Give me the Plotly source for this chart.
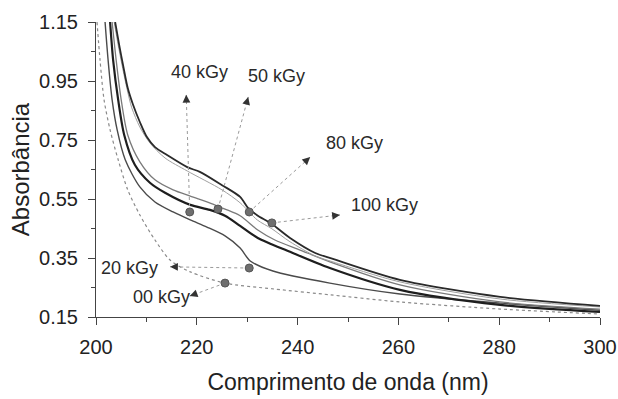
import math
import plotly.graph_objects as go

# ---- data ----
x_00 = [200.2, 200.8, 201.6, 202.8, 204.4, 206.3, 208.7, 211.7, 214.7, 218.7, 225.6, 235.3, 246.6, 260.3, 280.2, 300.0]
y_00 = [1.150, 1.021, 0.886, 0.784, 0.683, 0.581, 0.496, 0.411, 0.343, 0.303, 0.265, 0.245, 0.225, 0.201, 0.177, 0.160]

x_20 = [201.8, 202.4, 203.2, 204.2, 205.8, 208.7, 211.7, 215.3, 218.7, 222.0, 225.6, 228.6, 230.6, 235.1, 246.4, 260.3, 280.2, 300.0]
y_20 = [1.150, 1.021, 0.886, 0.784, 0.683, 0.591, 0.540, 0.506, 0.479, 0.455, 0.425, 0.384, 0.340, 0.306, 0.265, 0.228, 0.197, 0.173]

x_40 = [202.8, 203.4, 204.4, 205.6, 207.7, 210.7, 213.7, 218.7, 222.6, 225.6, 228.6, 232.1, 238.5, 246.4, 260.3, 280.2, 300.0]
y_40 = [1.150, 1.021, 0.886, 0.767, 0.666, 0.605, 0.571, 0.530, 0.513, 0.493, 0.459, 0.418, 0.371, 0.316, 0.242, 0.191, 0.167]

x_50 = [203.2, 204.0, 205.0, 206.3, 208.7, 211.7, 215.3, 218.7, 223.2, 225.6, 228.6, 232.1, 235.5, 240.5, 246.4, 260.3, 280.2, 300.0]
y_50 = [1.150, 1.021, 0.886, 0.767, 0.676, 0.615, 0.581, 0.560, 0.533, 0.516, 0.493, 0.445, 0.411, 0.377, 0.337, 0.259, 0.201, 0.177]

x_80 = [203.6, 204.4, 205.2, 206.2, 207.1, 208.7, 210.7, 213.7, 218.1, 225.0, 228.6, 232.0, 234.9, 238.5, 243.5, 247.0, 260.3, 280.2, 300.0]
y_80 = [1.150, 1.072, 1.001, 0.920, 0.859, 0.794, 0.740, 0.689, 0.645, 0.581, 0.537, 0.479, 0.449, 0.405, 0.357, 0.337, 0.269, 0.211, 0.184]

x_100 = [203.8, 204.6, 205.4, 206.3, 207.3, 208.7, 210.1, 211.7, 214.1, 218.1, 220.6, 225.0, 228.6, 230.2, 231.9, 234.9, 238.5, 243.5, 247.0, 260.3, 280.2, 300.0]
y_100 = [1.150, 1.072, 1.001, 0.926, 0.872, 0.811, 0.760, 0.726, 0.699, 0.658, 0.642, 0.597, 0.557, 0.519, 0.496, 0.465, 0.418, 0.367, 0.347, 0.276, 0.218, 0.188]

dose_labels = ["00 kGy", "20 kGy", "40 kGy", "50 kGy", "80 kGy", "100 kGy"]
# label centre, arrow head, and pointer dot (data coords)
label_x = [212.9, 206.7, 220.6, 235.9, 251.2, 257.3]
label_y = [0.218, 0.316, 0.980, 0.967, 0.740, 0.530]
head_x = [218.6, 214.7, 217.9, 230.2, 242.5, 248.4]
head_y = [0.221, 0.320, 0.903, 0.896, 0.692, 0.496]
dot_x = [225.6, 230.4, 218.6, 224.2, 230.4, 234.9]
dot_y = [0.265, 0.316, 0.506, 0.516, 0.506, 0.469]

x_ticks = [200, 220, 240, 260, 280, 300]
y_ticks = [0.15, 0.35, 0.55, 0.75, 0.95, 1.15]
y_tick_text = ["0.15", "0.35", "0.55", "0.75", "0.95", "1.15"]

# ---- figure ----
W, H = 618, 399
ML, MR, MT, MB = 96, 18, 22, 82
XR = [200, 300]
YR = [0.15, 1.15]

FONT = "Liberation Sans, Arial, sans-serif"

series = [
    (x_00, y_00, "#8a8a8a", 1.2, "dot"),
    (x_20, y_20, "#4a4a4a", 1.4, "solid"),
    (x_40, y_40, "#1e1e1e", 2.2, "solid"),
    (x_50, y_50, "#7a7a7a", 1.3, "solid"),
    (x_80, y_80, "#a0a0a0", 1.0, "solid"),
    (x_100, y_100, "#2a2a2a", 1.8, "solid"),
]

fig = go.Figure()
for (xs, ys, col, w, dash), name in zip(series, dose_labels):
    fig.add_trace(go.Scatter(x=xs, y=ys, mode="lines", name=name,
                             line=dict(color=col, width=w, dash=dash, shape="spline", smoothing=0.8),
                             showlegend=False, hoverinfo="skip", cliponaxis=True))

# dotted pointer lines
for i in range(len(dose_labels)):
    fig.add_trace(go.Scatter(x=[dot_x[i], head_x[i]], y=[dot_y[i], head_y[i]], mode="lines",
                             line=dict(color="#9a9a9a", width=1, dash="dot"),
                             showlegend=False, hoverinfo="skip"))
# pointer dots
fig.add_trace(go.Scatter(x=dot_x, y=dot_y, mode="markers",
                         marker=dict(size=8, color="#6f6f6f", line=dict(color="#555", width=1)),
                         showlegend=False, hoverinfo="skip"))

pw = W - ML - MR
ph = H - MT - MB
def to_px(x, y):
    return (ML + (x - XR[0]) / (XR[1] - XR[0]) * pw,
            MT + (YR[1] - y) / (YR[1] - YR[0]) * ph)

for i, lab in enumerate(dose_labels):
    hx, hy = to_px(head_x[i], head_y[i])
    dx, dy = to_px(dot_x[i], dot_y[i])
    vx, vy = hx - dx, hy - dy
    n = math.hypot(vx, vy) or 1
    ux, uy = vx / n, vy / n
    fig.add_annotation(x=head_x[i], y=head_y[i], xref="x", yref="y", text="",
                       showarrow=True, arrowhead=2, arrowsize=1.3, arrowwidth=1.2,
                       arrowcolor="#333", ax=-ux * 8, ay=-uy * 8)
    fig.add_annotation(x=label_x[i], y=label_y[i], xref="x", yref="y", text=lab,
                       showarrow=False, font=dict(family=FONT, size=18, color="#2a2a2a"))

fig.update_layout(
    width=W, height=H,
    margin=dict(l=ML, r=MR, t=MT, b=MB),
    paper_bgcolor="white", plot_bgcolor="white",
    font=dict(family=FONT, color="#222"),
)
fig.update_xaxes(range=XR, tickvals=x_ticks, ticks="outside", ticklen=7, tickcolor="#444",
                 showline=True, linecolor="#444", linewidth=1, showgrid=False, zeroline=False,
                 automargin=False, ticklabelstandoff=5,
                 tickfont=dict(size=20, family=FONT, color="#222"),
                 minor=dict(tickvals=[210, 230, 250, 270, 290], ticks="outside", ticklen=4, tickcolor="#444"),
                 title=dict(text="Comprimento de onda (nm)", font=dict(size=23, family=FONT, color="#222"), standoff=16))
fig.update_yaxes(range=YR, tickvals=y_ticks, ticktext=y_tick_text, ticks="outside", ticklen=7, tickcolor="#444",
                 showline=True, linecolor="#444", linewidth=1, showgrid=False, zeroline=False,
                 automargin=False, ticklabelstandoff=6,
                 tickfont=dict(size=20, family=FONT, color="#222"),
                 minor=dict(tickvals=[0.25, 0.45, 0.65, 0.85, 1.05], ticks="outside", ticklen=4, tickcolor="#444"),
                 title=dict(text="Absorbância", font=dict(size=24, family=FONT, color="#222"), standoff=2))

fig.write_html("out.html", config={"displayModeBar": False},
               post_script="document.body.style.margin='0';document.body.style.overflow='hidden';")
